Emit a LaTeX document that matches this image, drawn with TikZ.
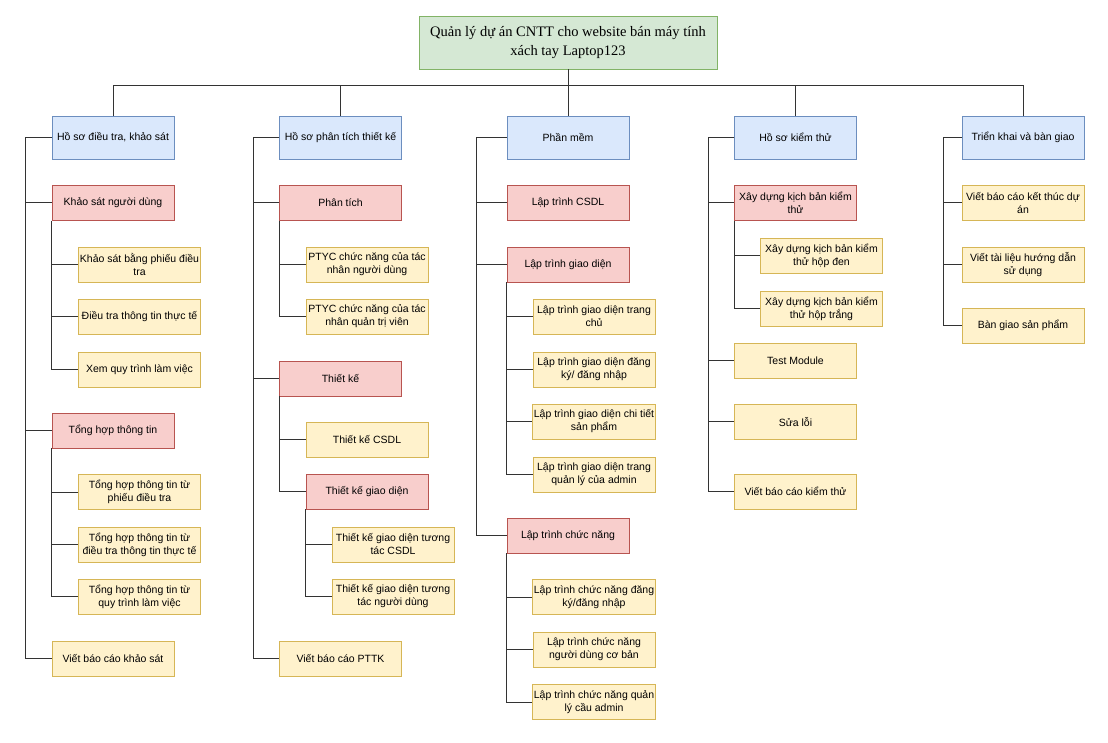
\documentclass[tikz,border=0pt]{standalone}
\usepackage{fontspec}
\setmainfont{Liberation Sans}
\newfontfamily\titlefont{Liberation Serif}
\usepackage{tikz}
\usetikzlibrary{positioning, calc}

\definecolor{blueF}{HTML}{DAE8FC}
\definecolor{blueD}{HTML}{6C8EBF}
\definecolor{redF}{HTML}{F8CECC}
\definecolor{redD}{HTML}{B85450}
\definecolor{yelF}{HTML}{FFF2CC}
\definecolor{yelD}{HTML}{D6B656}
\definecolor{grnF}{HTML}{D5E8D4}
\definecolor{grnD}{HTML}{82B366}
\definecolor{lineC}{HTML}{333333}

\tikzset{
    box/.style={draw, line width=0.9pt, minimum width=122, minimum height=35,
        align=center, inner sep=1pt, font=\fontsize{10.5}{13}\selectfont},
    lvone/.style={box, fill=blueF, draw=blueD, minimum height=43},
    grp/.style={box, fill=redF, draw=redD},
    task/.style={box, fill=yelF, draw=yelD},
    link/.style={draw=lineC, line width=1pt},
}

\begin{document}
\begin{tikzpicture}[x=1pt,y=-1pt]

    \useasboundingbox (0,0) rectangle (1108,743);

    % Gốc
    \node[box, fill=grnF, draw=grnD, minimum width=298, minimum height=53,
          font=\titlefont\fontsize{14.5}{19}\selectfont] (root) at (568,42.5)
        {Quản lý dự án CNTT cho website bán máy tính\\xách tay Laptop123};

    %--------------------------------
    % Cấp 1
    %--------------------------------
    \node[lvone] (h1) at (113,137.5)   {Hồ sơ điều tra, khảo sát};
    \node[lvone] (h2) at (340.5,137.5) {Hồ sơ phân tích thiết kế};
    \node[lvone] (h3) at (568,137.5)   {Phần mềm};
    \node[lvone] (h4) at (795.5,137.5) {Hồ sơ kiểm thử};
    \node[lvone] (h5) at (1023,137.5)  {Triển khai và bàn giao};

    \coordinate (bus) at (568,86);
    \draw[link] (root.south) -- (bus);
    \foreach \h in {h1,h2,h3,h4,h5}{
        \draw[link] (\h.north) |- (bus);
    }

    %--------------------------------
    % Cột 1: khảo sát
    %--------------------------------
    \node[grp]  (k1)  at (113,203)     {Khảo sát người dùng};
    \node[task] (k11) at (139.5,264.5) {Khảo sát bằng phiếu điều\\tra};
    \node[task] (k12) at (139.5,316.5) {Điều tra thông tin thực tế};
    \node[task] (k13) at (139.5,369.5) {Xem quy trình làm việc};
    \node[grp]  (k2)  at (113,430.5)   {Tổng hợp thông tin};
    \node[task] (k21) at (139.5,492)   {Tổng hợp thông tin từ\\phiếu điều tra};
    \node[task] (k22) at (139.5,544.5) {Tổng hợp thông tin từ\\điều tra thông tin thực tế};
    \node[task] (k23) at (139.5,596.5) {Tổng hợp thông tin từ\\quy trình làm việc};
    \node[task] (k3)  at (113,658.5)   {Viết báo cáo khảo sát};

    \foreach \c in {k1,k2,k3}{
        \draw[link] (h1.west) -- ++(-26,0) |- (\c.west);
    }
    \foreach \c in {k11,k12,k13}{
        \draw[link] (k1.south west) |- (\c.west);
    }
    \foreach \c in {k21,k22,k23}{
        \draw[link] (k2.south west) |- (\c.west);
    }

    %--------------------------------
    % Cột 2: phân tích thiết kế
    %--------------------------------
    \node[grp]  (p1)   at (340.5,203)   {Phân tích};
    \node[task] (p11)  at (367,264.5)   {PTYC chức năng của tác\\nhân người dùng};
    \node[task] (p12)  at (367,316.5)   {PTYC chức năng của tác\\nhân quản trị viên};
    \node[grp]  (p2)   at (340.5,378.5) {Thiết kế};
    \node[task] (p21)  at (367,439.5)   {Thiết kế CSDL};
    \node[grp]  (p22)  at (367,491.5)   {Thiết kế giao diện};
    \node[task] (p221) at (393,544.5)   {Thiết kế giao diện tương\\tác CSDL};
    \node[task] (p222) at (393,596.5)   {Thiết kế giao diện tương\\tác người dùng};
    \node[task] (p3)   at (340.5,658.5) {Viết báo cáo PTTK};

    \foreach \c in {p1,p2,p3}{
        \draw[link] (h2.west) -- ++(-26,0) |- (\c.west);
    }
    \foreach \c in {p11,p12}{
        \draw[link] (p1.south west) |- (\c.west);
    }
    \foreach \c in {p21,p22}{
        \draw[link] (p2.south west) |- (\c.west);
    }
    \foreach \c in {p221,p222}{
        \draw[link] (p22.south west) |- (\c.west);
    }

    %--------------------------------
    % Cột 3: phần mềm
    %--------------------------------
    \node[grp]  (l1)  at (568,203)   {Lập trình CSDL};
    \node[grp]  (l2)  at (568,264.5) {Lập trình giao diện};
    \node[task] (l21) at (594,316.5) {Lập trình giao diện trang\\chủ};
    \node[task] (l22) at (594,369.5) {Lập trình giao diện đăng\\ký/ đăng nhập};
    \node[task] (l23) at (594,421.5) {Lập trình giao diện chi tiết\\sản phẩm};
    \node[task] (l24) at (594,474.5) {Lập trình giao diện trang\\quản lý của admin};
    \node[grp]  (l3)  at (568,535.5) {Lập trình chức năng};
    \node[task] (l31) at (594,597)   {Lập trình chức năng đăng\\ký/đăng nhập};
    \node[task] (l32) at (594,649.5) {Lập trình chức năng\\người dùng cơ bản};
    \node[task] (l33) at (594,702)   {Lập trình chức năng quản\\lý cầu admin};

    \foreach \c in {l1,l2,l3}{
        \draw[link] (h3.west) -- ++(-30,0) |- (\c.west);
    }
    \foreach \c in {l21,l22,l23,l24}{
        \draw[link] (l2.south west) |- (\c.west);
    }
    \foreach \c in {l31,l32,l33}{
        \draw[link] (l3.south west) |- (\c.west);
    }

    %--------------------------------
    % Cột 4: kiểm thử
    %--------------------------------
    \node[grp]  (t1)  at (795.5,203)   {Xây dựng kịch bản kiểm\\thử};
    \node[task] (t11) at (821.5,255.5) {Xây dựng kịch bản kiểm\\thử hộp đen};
    \node[task] (t12) at (821.5,308.5) {Xây dựng kịch bản kiểm\\thử hộp trắng};
    \node[task] (t2)  at (795.5,360.5) {Test Module};
    \node[task] (t3)  at (795.5,421.5) {Sửa lỗi};
    \node[task] (t4)  at (795.5,491.5) {Viết báo cáo kiểm thử};

    \foreach \c in {t1,t2,t3,t4}{
        \draw[link] (h4.west) -- ++(-26,0) |- (\c.west);
    }
    \foreach \c in {t11,t12}{
        \draw[link] (t1.south west) |- (\c.west);
    }

    %--------------------------------
    % Cột 5: triển khai
    %--------------------------------
    \node[task] (b1) at (1023,203)   {Viết báo cáo kết thúc dự\\án};
    \node[task] (b2) at (1023,264.5) {Viết tài liệu hướng dẫn\\sử dụng};
    \node[task] (b3) at (1023,325.5) {Bàn giao sản phẩm};

    \foreach \c in {b1,b2,b3}{
        \draw[link] (h5.west) -- ++(-18,0) |- (\c.west);
    }

\end{tikzpicture}
\end{document}
